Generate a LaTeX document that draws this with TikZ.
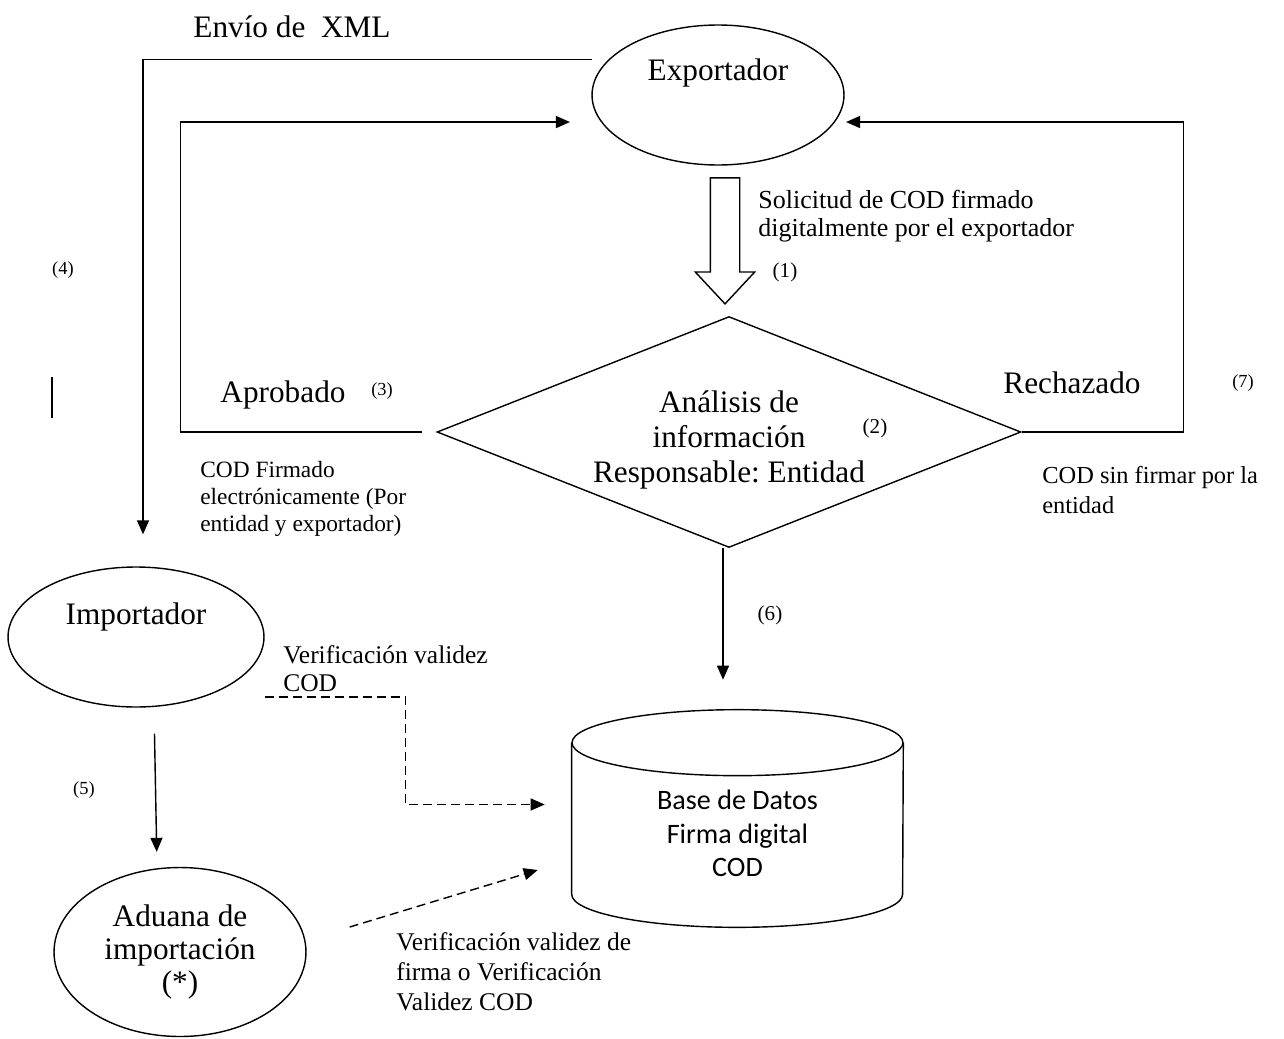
\documentclass[tikz,border=0pt]{standalone}
\usepackage{fontspec}
\setmainfont{Liberation Serif}
\newfontfamily\dbfont{Carlito}
\usetikzlibrary{shapes.geometric, shapes.arrows}
\usetikzlibrary{arrows.meta}
\usetikzlibrary{positioning}
\tikzstyle{actor} = [ellipse, draw, line width=0.8pt, inner sep=0]
\tikzstyle{decision} = [diamond, draw, line width=0.8pt, inner sep=0, aspect=2.53, align=center]
\tikzstyle{arrow} = [-{Triangle[length=0.28cm, width=0.24cm]}, line width=0.8pt]
\tikzstyle{dasharrow} = [arrow, dash pattern=on 0.18cm off 0.1cm]
\tikzstyle{note} = [inner sep=0, align=left, anchor=west]
\newcommand{\bigfont}{\fontsize{17.8}{20.5}\selectfont}
\newcommand{\numfont}{\fontsize{12}{14}\selectfont}
\newcommand{\smallnum}{\fontsize{10.5}{12}\selectfont}
\frenchspacing

\begin{document}
\begin{tikzpicture}[x=0.02cm, y=-0.02cm]

  \useasboundingbox (0,0) rectangle (1284,1038);

  % actors
  \node[actor, minimum width=5.04cm, minimum height=2.8cm] (exp) at (718,95) {};
  \node[font=\bigfont] (exptext) at ([yshift=0.44cm]exp.center) {Exportador};
  \node[actor, minimum width=5.12cm, minimum height=2.8cm] (imp) at (136,637) {};
  \node[font=\bigfont] (imptext) at ([yshift=0.4cm]imp.center) {Importador};
  \node[actor, minimum width=5.04cm, minimum height=3.38cm, align=center, font=\fontsize{17.8}{19}\selectfont] (adu) at (180,952) {Aduana de\\importación\\(*)};

  % decision
  \node[decision, minimum width=11.68cm, minimum height=4.62cm] (dec) at (729,432) {};
  \node[align=center, font=\fontsize{17.8}{20}\selectfont] (dectext) at ([yshift=-0.16cm]dec.center) {Análisis de\\información\\Responsable: Entidad};

  % request arrow
  \node[single arrow, draw, line width=0.8pt, shape border rotate=270, inner xsep=0.28cm, inner ysep=0,
        minimum height=2.52cm, minimum width=1.16cm, single arrow head extend=0.3cm,
        single arrow tip angle=86] (req) at (725,233) {};

  % database
  \node[minimum width=6.62cm, minimum height=4.34cm, inner sep=0] (db) at (737.5,818.5) {};
  \draw[line width=0.8pt] ([yshift=-0.66cm]db.north) ellipse [x radius=3.31cm, y radius=0.66cm];
  \draw[line width=0.8pt] ([yshift=-0.66cm]db.north west) -- ([yshift=0.66cm]db.south west)
    arc[start angle=180, end angle=360, x radius=3.31cm, y radius=0.66cm]
    -- ([yshift=-0.66cm]db.north east);
  \node[align=center, font=\dbfont\fontsize{16}{19}\selectfont] (dbtext) at ([yshift=-0.3cm]db.center) {Base de Datos\\Firma digital\\COD};

  % connectors
  \draw[arrow, shorten <=0.34cm, shorten >=0.64cm] (exp.162) -| ([xshift=0.14cm]imp.north);
  \draw[arrow, shorten >=0.62cm] ([xshift=-0.28cm]dec.west) -- ++(-242,0) |- (exp.193);
  \draw[arrow, shorten >=0.22cm] (dec.east) -- ++(162,0) |- (exp.-13);
  \draw[arrow, shorten >=0.6cm] ([xshift=-0.12cm]dec.south) -- ([xshift=-0.12cm]dec.south |- db.north);
  \draw[arrow, shorten <=0.52cm, shorten >=0.3cm] ([xshift=0.36cm]imp.south) -- ([xshift=-0.46cm]adu.north);
  \draw[dasharrow] ([yshift=-1.2cm]imp.east) -- ++(141,0) |- ([xshift=-0.54cm, yshift=0.28cm]db.west);
  \draw[dasharrow] ([xshift=0.86cm, yshift=0.5cm]adu.east) -- ([xshift=-0.68cm, yshift=-1.03cm]db.west);

  % labels
  \node[font=\bigfont] (xml) at (292,27) {Envío de \ XML};
  \node[font=\smallnum] (n4) at (63,270) {(4)};
  \draw[line width=0.8pt] (52,377) -- (52,418);
  \node[font=\bigfont] (apr) at (283,395) {Aprobado};
  \node[font=\smallnum] (n3) at (382,391) {(3)};
  \node[note, font=\fontsize{13.3}{15.4}\selectfont] (firm) at (200,499) {COD Firmado\\electrónicamente (Por\\entidad y exportador)};
  \node[font=\bigfont] (rech) at (1072,383) {Rechazado};
  \node[font=\smallnum] (n7) at (1243,383) {(7)};
  \node[note, font=\fontsize{13.9}{17}\selectfont] (sinf) at (1042,490) {COD sin firmar por la\\entidad};
  \node[note, font=\fontsize{14.8}{16}\selectfont] (sol) at (758,216) {Solicitud de COD firmado\\digitalmente por el exportador};
  \node[font=\numfont] (n1) at (785,272) {(1)};
  \node[font=\numfont] (n2) at (875,428) {(2)};
  \node[font=\numfont] (n6) at (770,615) {(6)};
  \node[font=\smallnum] (n5) at (84,790) {(5)};
  \node[note, font=\fontsize{14.5}{16}\selectfont] (ver1) at (283,669) {Verificación validez\\COD};
  \node[note, font=\fontsize{14.5}{17}\selectfont] (ver2) at (396,972) {Verificación validez de\\firma o Verificación\\Validez COD};

\end{tikzpicture}
\end{document}
